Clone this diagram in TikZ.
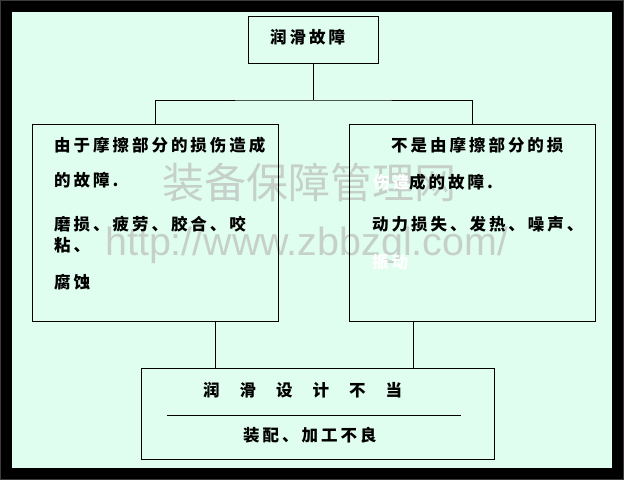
\documentclass[tikz,border=0pt]{standalone}
\usepackage{fontspec}
\newfontfamily\cjk{Noto Sans CJK SC}[LetterSpace=18]
\newfontfamily\wmcjk{Noto Sans CJK SC}
\newfontfamily\wmlat{Liberation Sans}
\definecolor{bgmint}{RGB}{224,254,240}
\definecolor{frameg}{RGB}{60,60,60}
\definecolor{wmgray}{RGB}{198,208,203}
\tikzset{
  box/.style={draw=black, line width=1pt, inner sep=0pt, fill=none},
  conn/.style={draw=black, line width=1pt},
  txt/.style={anchor=west, inner sep=0pt, font=\cjk\bfseries\fontsize{16.5}{18}\selectfont, text height=0.88em, text depth=0.12em},
}
\begin{document}
\begin{tikzpicture}[x=1pt,y=-1pt]
\useasboundingbox (0,0) rectangle (624,480);
% frame and background
\fill[frameg] (0,0) rectangle (624,480);
\fill[black] (1,1) rectangle (623,479);
\fill[bgmint] (12,12) rectangle (612,468);
% watermark
\node[anchor=center, inner sep=0pt, text=wmgray, font=\wmcjk\fontsize{42}{44}\selectfont] (wm1) at (309,183) {装备保障管理网};
\node[anchor=base west, inner sep=0pt, text=wmgray, font=\wmlat\fontsize{39.4}{42}\selectfont] (wm2) at (105,255) {http://www.zbbzgl.com/};
% boxes
\node[box, minimum width=130pt, minimum height=47pt] (top) at (313,39.5) {};
\node[box, minimum width=246pt, minimum height=197pt] (left) at (155,222.5) {};
\node[box, minimum width=246pt, minimum height=197pt] (right) at (472,222.5) {};
\node[box, minimum width=353pt, minimum height=91pt] (bottom) at (317.5,413.5) {};
% connectors
\coordinate (jn) at (313,100);
\draw[conn] (top.south) -- (jn);
\draw[conn] (left.north) |- (jn) -| (right.north);
\draw[conn] ([xshift=60pt]left.south) -- ([xshift=60pt]left.south |- bottom.north);
\draw[conn] ([xshift=-59pt]right.south) -- ([xshift=-59pt]right.south |- bottom.north);
% separator inside bottom box
\coordinate (sepL) at (167,415);
\coordinate (sepR) at (461,415);
\draw[conn] (sepL) -- (sepR);
% texts
\node[txt] (t0) at (270,40) {润滑故障};
\node[txt] (l1) at (54,148) {由于摩擦部分的损伤造成};
\node[txt] (l2) at (54,183) {的故障.};
\node[txt] (l3) at (54,227) {磨损、疲劳、胶合、咬};
\node[txt] (l4) at (54,248) {粘、};
\node[txt] (l5) at (54,285) {腐蚀};
\node[txt] (r1) at (391,148) {不是由摩擦部分的损};
\node[txt] (r2) at (373,185) {\textcolor{white}{伤造}成的故障.};
\node[txt] (r3) at (372,227) {动力损失、发热、噪声、};
\node[txt, text=white] (r4) at (372,265) {振动};
\node[txt] (b1) at (203,393) {润\hspace{20pt}滑\hspace{20pt}设\hspace{20pt}计\hspace{20pt}不\hspace{20pt}当};
\node[txt] (b2) at (243,438) {装配、加工不良};
\end{tikzpicture}
\end{document}
